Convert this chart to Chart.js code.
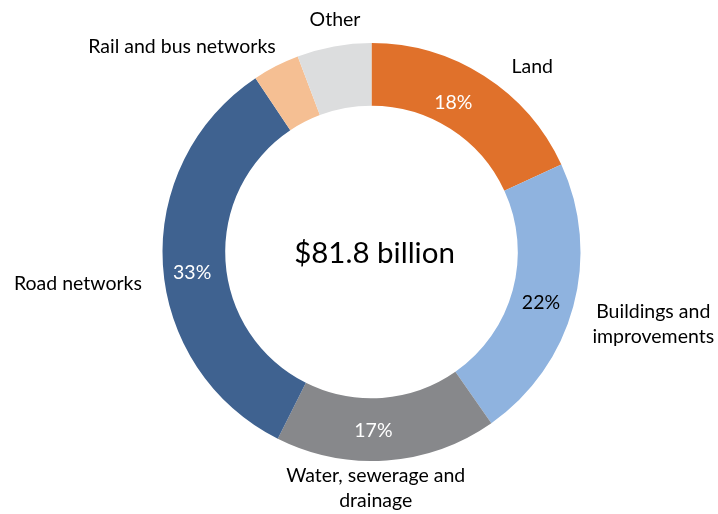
<!DOCTYPE html>
<html>
<head>
<meta charset="utf-8">
<title>Asset composition</title>
<script src="https://cdn.jsdelivr.net/npm/chart.js@4/dist/chart.umd.min.js"></script>
<style>
  html, body { margin: 0; padding: 0; background: #fff; }
  canvas { display: block; }
</style>
</head>
<body>
<canvas id="assetDonut" width="718" height="514"></canvas>
<script>
// Categories and shares (%)
const categories = ['Land', 'Buildings and improvements', 'Water, sewerage and drainage', 'Road networks', 'Rail and bus networks', 'Other'];
const shares = [18, 22, 17, 33, 3.6, 5.7];
const totalLabel = '$81.8 billion';

// How each category name is broken over lines
const nameLines = [
    ['Land'],
    ['Buildings and', 'improvements'],
    ['Water, sewerage and', 'drainage'],
    ['Road networks'],
    ['Rail and bus networks'],
    ['Other']
];

const sliceColours = ['#E0712B', '#8FB3DF', '#87888B', '#3F6290', '#F5BF93', '#DCDDDE'];
const pctColours = ['#FFFFFF', '#000000', '#FFFFFF', '#FFFFFF', '#FFFFFF', '#FFFFFF'];

// nudges (px) for the names, from the outer edge at the slice's middle
const nameOffsets = [[48, -9], [80, 18], [-11, 28], [-85, 19], [-94, -19], [1, -27]];
// nudges (px) for the percentages, from the middle of the ring
const pctOffsets = [[-14, 0], [-2, 4], [-11, 2], [-2, 10], [0, 0], [0, 0]];

const FONT = 'Lato, "Open Sans", sans-serif';

const ringLabels = {
    id: 'ringLabels',
    afterDatasetsDraw(chart) {
        const ctx = chart.ctx;
        const arcs = chart.getDatasetMeta(0).data;
        ctx.save();
        ctx.textAlign = 'center';
        ctx.textBaseline = 'middle';

        let cx = 0, cy = 0;
        arcs.forEach((arc, i) => {
            const p = arc.getProps(['x', 'y', 'startAngle', 'endAngle', 'innerRadius', 'outerRadius'], true);
            const mid = (p.startAngle + p.endAngle) / 2;
            cx = p.x; cy = p.y;

            // percentage inside the ring, only for the big slices
            if (shares[i] >= 10) {
                const r = (p.innerRadius + p.outerRadius) / 2;
                ctx.font = '19.5px ' + FONT;
                ctx.fillStyle = pctColours[i];
                ctx.fillText(shares[i] + '%',
                    p.x + Math.cos(mid) * r + pctOffsets[i][0],
                    p.y + Math.sin(mid) * r + pctOffsets[i][1]);
            }

            // category name outside
            const ox = p.x + Math.cos(mid) * p.outerRadius + nameOffsets[i][0];
            const oy = p.y + Math.sin(mid) * p.outerRadius + nameOffsets[i][1];
            const lines = nameLines[i];
            ctx.font = '19.5px ' + FONT;
            ctx.fillStyle = '#000';
            lines.forEach((ln, k) => {
                ctx.fillText(ln, ox, oy + (k - (lines.length - 1) / 2) * 25);
            });
        });

        // total in the hole
        ctx.font = '29.5px ' + FONT;
        ctx.fillStyle = '#000';
        ctx.fillText(totalLabel, cx + 3, cy + 1);
        ctx.restore();
    }
};

new Chart(document.getElementById('assetDonut'), {
    type: 'doughnut',
    data: {
        labels: categories,
        datasets: [{
            data: shares,
            backgroundColor: sliceColours,
            borderWidth: 0
        }]
    },
    options: {
        responsive: false,
        animation: false,
        cutout: '70%',
        layout: { padding: { left: 162, right: 137, top: 43, bottom: 53 } },
        plugins: {
            legend: { display: false },
            tooltip: { enabled: false }
        }
    },
    plugins: [ringLabels]
});
</script>
</body>
</html>
